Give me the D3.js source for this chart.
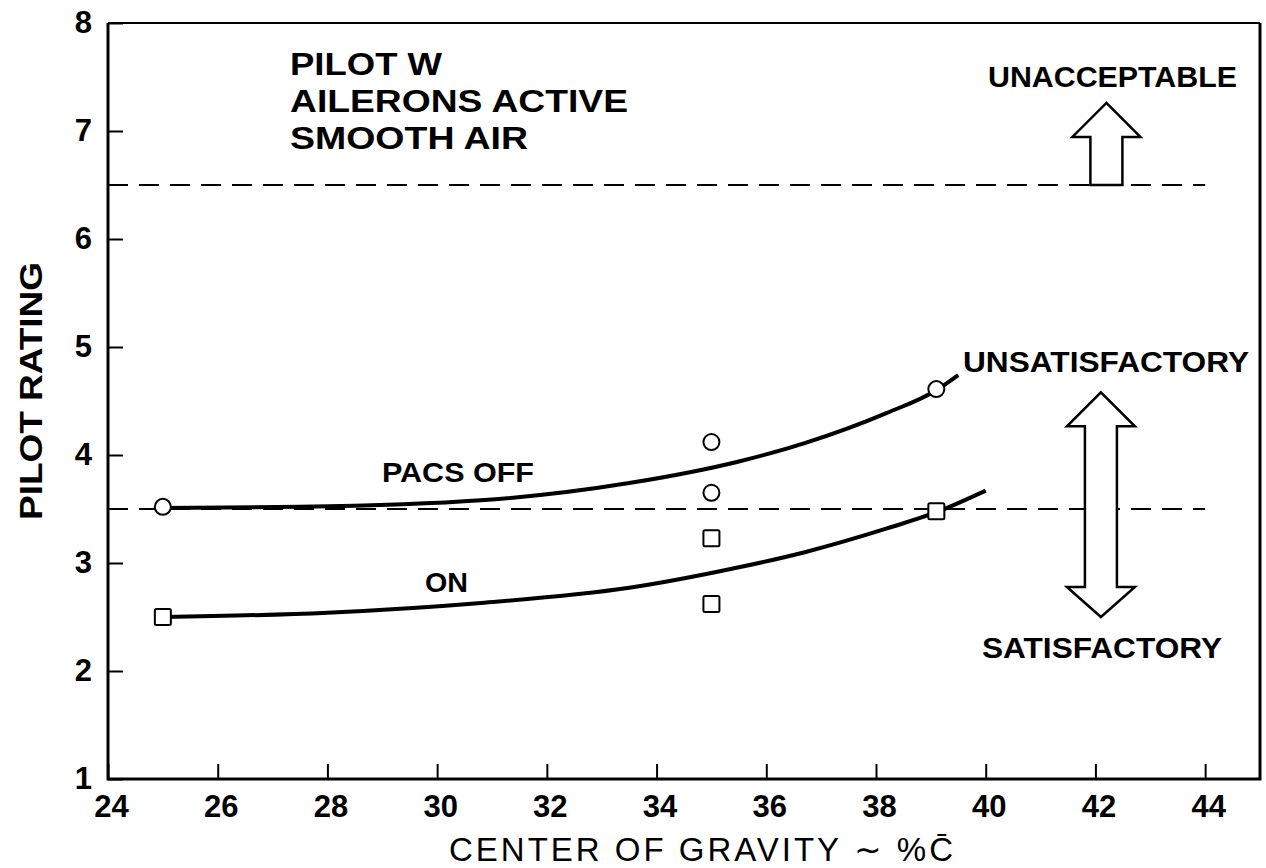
<!DOCTYPE html>
<html>
  <head>
    <style>
      body { margin: 0; background: #fff; }
      text { font-family: "Liberation Sans", Arial, sans-serif; fill: #000; }
    </style>
  </head>
  <body>
    <svg width="1266" height="868"></svg>
    <script src="https://cdn.jsdelivr.net/npm/d3@7"></script>
    <script>
      // values
      var xTicks = [24, 26, 28, 30, 32, 34, 36, 38, 40, 42, 44];
      var yTicks = [1, 2, 3, 4, 5, 6, 7, 8];

      var offPoints = [[25, 3.52], [35, 4.12], [35, 3.65], [39.1, 4.61]];
      var onPoints = [[25, 2.5], [35, 3.23], [35, 2.62], [39.1, 3.48]];

      // faired curves
      var offCurve = [[25, 3.51], [27.5, 3.52], [30.8, 3.58], [33.5, 3.74], [35.5, 3.94],
                      [36.7, 4.11], [38.2, 4.39], [39.1, 4.6], [39.5, 4.74]];
      var onCurve = [[25, 2.5], [28, 2.54], [30.8, 2.63], [33.5, 2.77], [35.5, 2.96],
                     [36.7, 3.1], [38.2, 3.32], [39.1, 3.47], [40, 3.67]];

      var boundaries = [6.5, 3.5];
      var boundaryEnd = 44;

      var infoLines = ["PILOT W", "AILERONS ACTIVE", "SMOOTH AIR"];
      var infoWidths = [152, 338, 238];

      var svg = d3.select("svg"),
        margin = { left: 108, right: 6, top: 23, bottom: 89 },
        width = +svg.attr("width") - margin.left - margin.right,
        height = +svg.attr("height") - margin.top - margin.bottom,
        g = svg.append("g").attr("transform", "translate(" + margin.left + "," + margin.top + ")");

      var x = d3.scaleLinear().domain([24, 45]).range([0, width]);
      var y = d3.scaleLinear().domain([1, 8]).range([height, 0]);

      // axes with inward ticks
      var xAxis = g.append("g")
        .attr("transform", "translate(0," + height + ")")
        .call(d3.axisBottom(x).tickValues(xTicks).tickSize(-15).tickPadding(16).tickFormat(d3.format("d")));
      var yAxis = g.append("g")
        .call(d3.axisLeft(y).tickValues(yTicks).tickSize(-15).tickPadding(16).tickFormat(d3.format("d")));

      [xAxis, yAxis].forEach(function(a) {
        a.select(".domain").remove();
        a.selectAll(".tick line").attr("stroke", "#000").attr("stroke-width", 2);
        a.selectAll(".tick text")
          .attr("font-family", "'Liberation Sans', Arial, sans-serif")
          .attr("font-weight", "bold")
          .attr("font-size", 31)
          .attr("fill", "#000");
      });
      xAxis.selectAll(".tick text").attr("dx", 3);

      // frame
      g.append("path")
        .attr("d", "M0,0V" + height + "H" + width + "V0")
        .attr("fill", "none").attr("stroke", "#000").attr("stroke-width", 3);
      g.append("line")
        .attr("x1", 0).attr("x2", width).attr("y1", 0).attr("y2", 0)
        .attr("stroke", "#000").attr("stroke-width", 2);

      // boundary lines
      g.selectAll(".bound")
        .data(boundaries)
        .enter()
        .append("line")
        .attr("class", "bound")
        .attr("x1", 0)
        .attr("x2", x(boundaryEnd))
        .attr("y1", function(d) { return y(d); })
        .attr("y2", function(d) { return y(d); })
        .attr("stroke", "#000")
        .attr("stroke-width", 2)
        .attr("stroke-dasharray", "20,11");

      // curves
      var line = d3.line()
        .x(function(d) { return x(d[0]); })
        .y(function(d) { return y(d[1]); })
        .curve(d3.curveMonotoneX);

      [offCurve, onCurve].forEach(function(c) {
        g.append("path")
          .attr("d", line(c))
          .attr("fill", "none")
          .attr("stroke", "#000")
          .attr("stroke-width", 4);
      });

      // markers
      g.selectAll(".off")
        .data(offPoints)
        .enter()
        .append("circle")
        .attr("class", "off")
        .attr("cx", function(d) { return x(d[0]); })
        .attr("cy", function(d) { return y(d[1]); })
        .attr("r", 8)
        .attr("fill", "#fff")
        .attr("stroke", "#000")
        .attr("stroke-width", 2);

      g.selectAll(".on")
        .data(onPoints)
        .enter()
        .append("rect")
        .attr("class", "on")
        .attr("x", function(d) { return x(d[0]) - 8; })
        .attr("y", function(d) { return y(d[1]) - 8; })
        .attr("width", 16)
        .attr("height", 16)
        .attr("rx", 1.5)
        .attr("fill", "#fff")
        .attr("stroke", "#000")
        .attr("stroke-width", 2);

      // arrows
      function arrowPath(cx, y0, y1, up, down) {
        var hw = 34, sw = 16, hl = 34;
        var p = [];
        if (up) {
          p.push([cx, y1], [cx + hw, y1 + hl], [cx + sw, y1 + hl]);
        } else {
          p.push([cx + sw, y1]);
        }
        if (down) {
          p.push([cx + sw, y0 - hl + 4], [cx + hw, y0 - hl + 4], [cx, y0], [cx - hw, y0 - hl + 4], [cx - sw, y0 - hl + 4]);
        } else {
          p.push([cx + sw, y0], [cx - sw, y0]);
        }
        if (up) {
          p.push([cx - sw, y1 + hl], [cx - hw, y1 + hl]);
        } else {
          p.push([cx - sw, y1]);
        }
        return "M" + p.join("L") + "Z";
      }

      g.append("path")
        .attr("d", arrowPath(x(42.2), y(6.5), y(7.26), true, false))
        .attr("fill", "#fff").attr("stroke", "#000").attr("stroke-width", 2.5);
      g.append("path")
        .attr("d", arrowPath(x(42.1), y(2.5), y(4.58), true, true))
        .attr("fill", "#fff").attr("stroke", "#000").attr("stroke-width", 2.5);

      // text annotations, glyphs stretched to the widths seen in the scan
      function label(txt, px, py, size, len) {
        return svg.append("text")
          .attr("x", px).attr("y", py)
          .attr("font-size", size)
          .attr("font-weight", "bold")
          .attr("textLength", len)
          .attr("lengthAdjust", "spacingAndGlyphs")
          .text(txt);
      }

      infoLines.forEach(function(s, i) {
        label(s, 290, 75 + i * 37, 31, infoWidths[i]);
      });

      label("UNACCEPTABLE", 988, 87, 29, 249);
      label("UNSATISFACTORY", 963, 372, 29, 286);
      label("SATISFACTORY", 982, 658, 29, 240);
      label("PACS OFF", 382, 482, 28, 152);
      label("ON", 425, 592, 28, 43);

      svg.append("text")
        .attr("transform", "translate(42,391) rotate(-90)")
        .attr("text-anchor", "middle")
        .attr("font-size", 31)
        .attr("font-weight", "bold")
        .attr("textLength", 258)
        .attr("lengthAdjust", "spacingAndGlyphs")
        .text("PILOT RATING");

      svg.append("text")
        .attr("x", 701)
        .attr("y", 861)
        .attr("text-anchor", "middle")
        .attr("font-size", 33)
        .attr("textLength", 504)
        .attr("lengthAdjust", "spacing")
        .text("CENTER OF GRAVITY \u223C %C\u0304");
    </script>
  </body>
</html>
